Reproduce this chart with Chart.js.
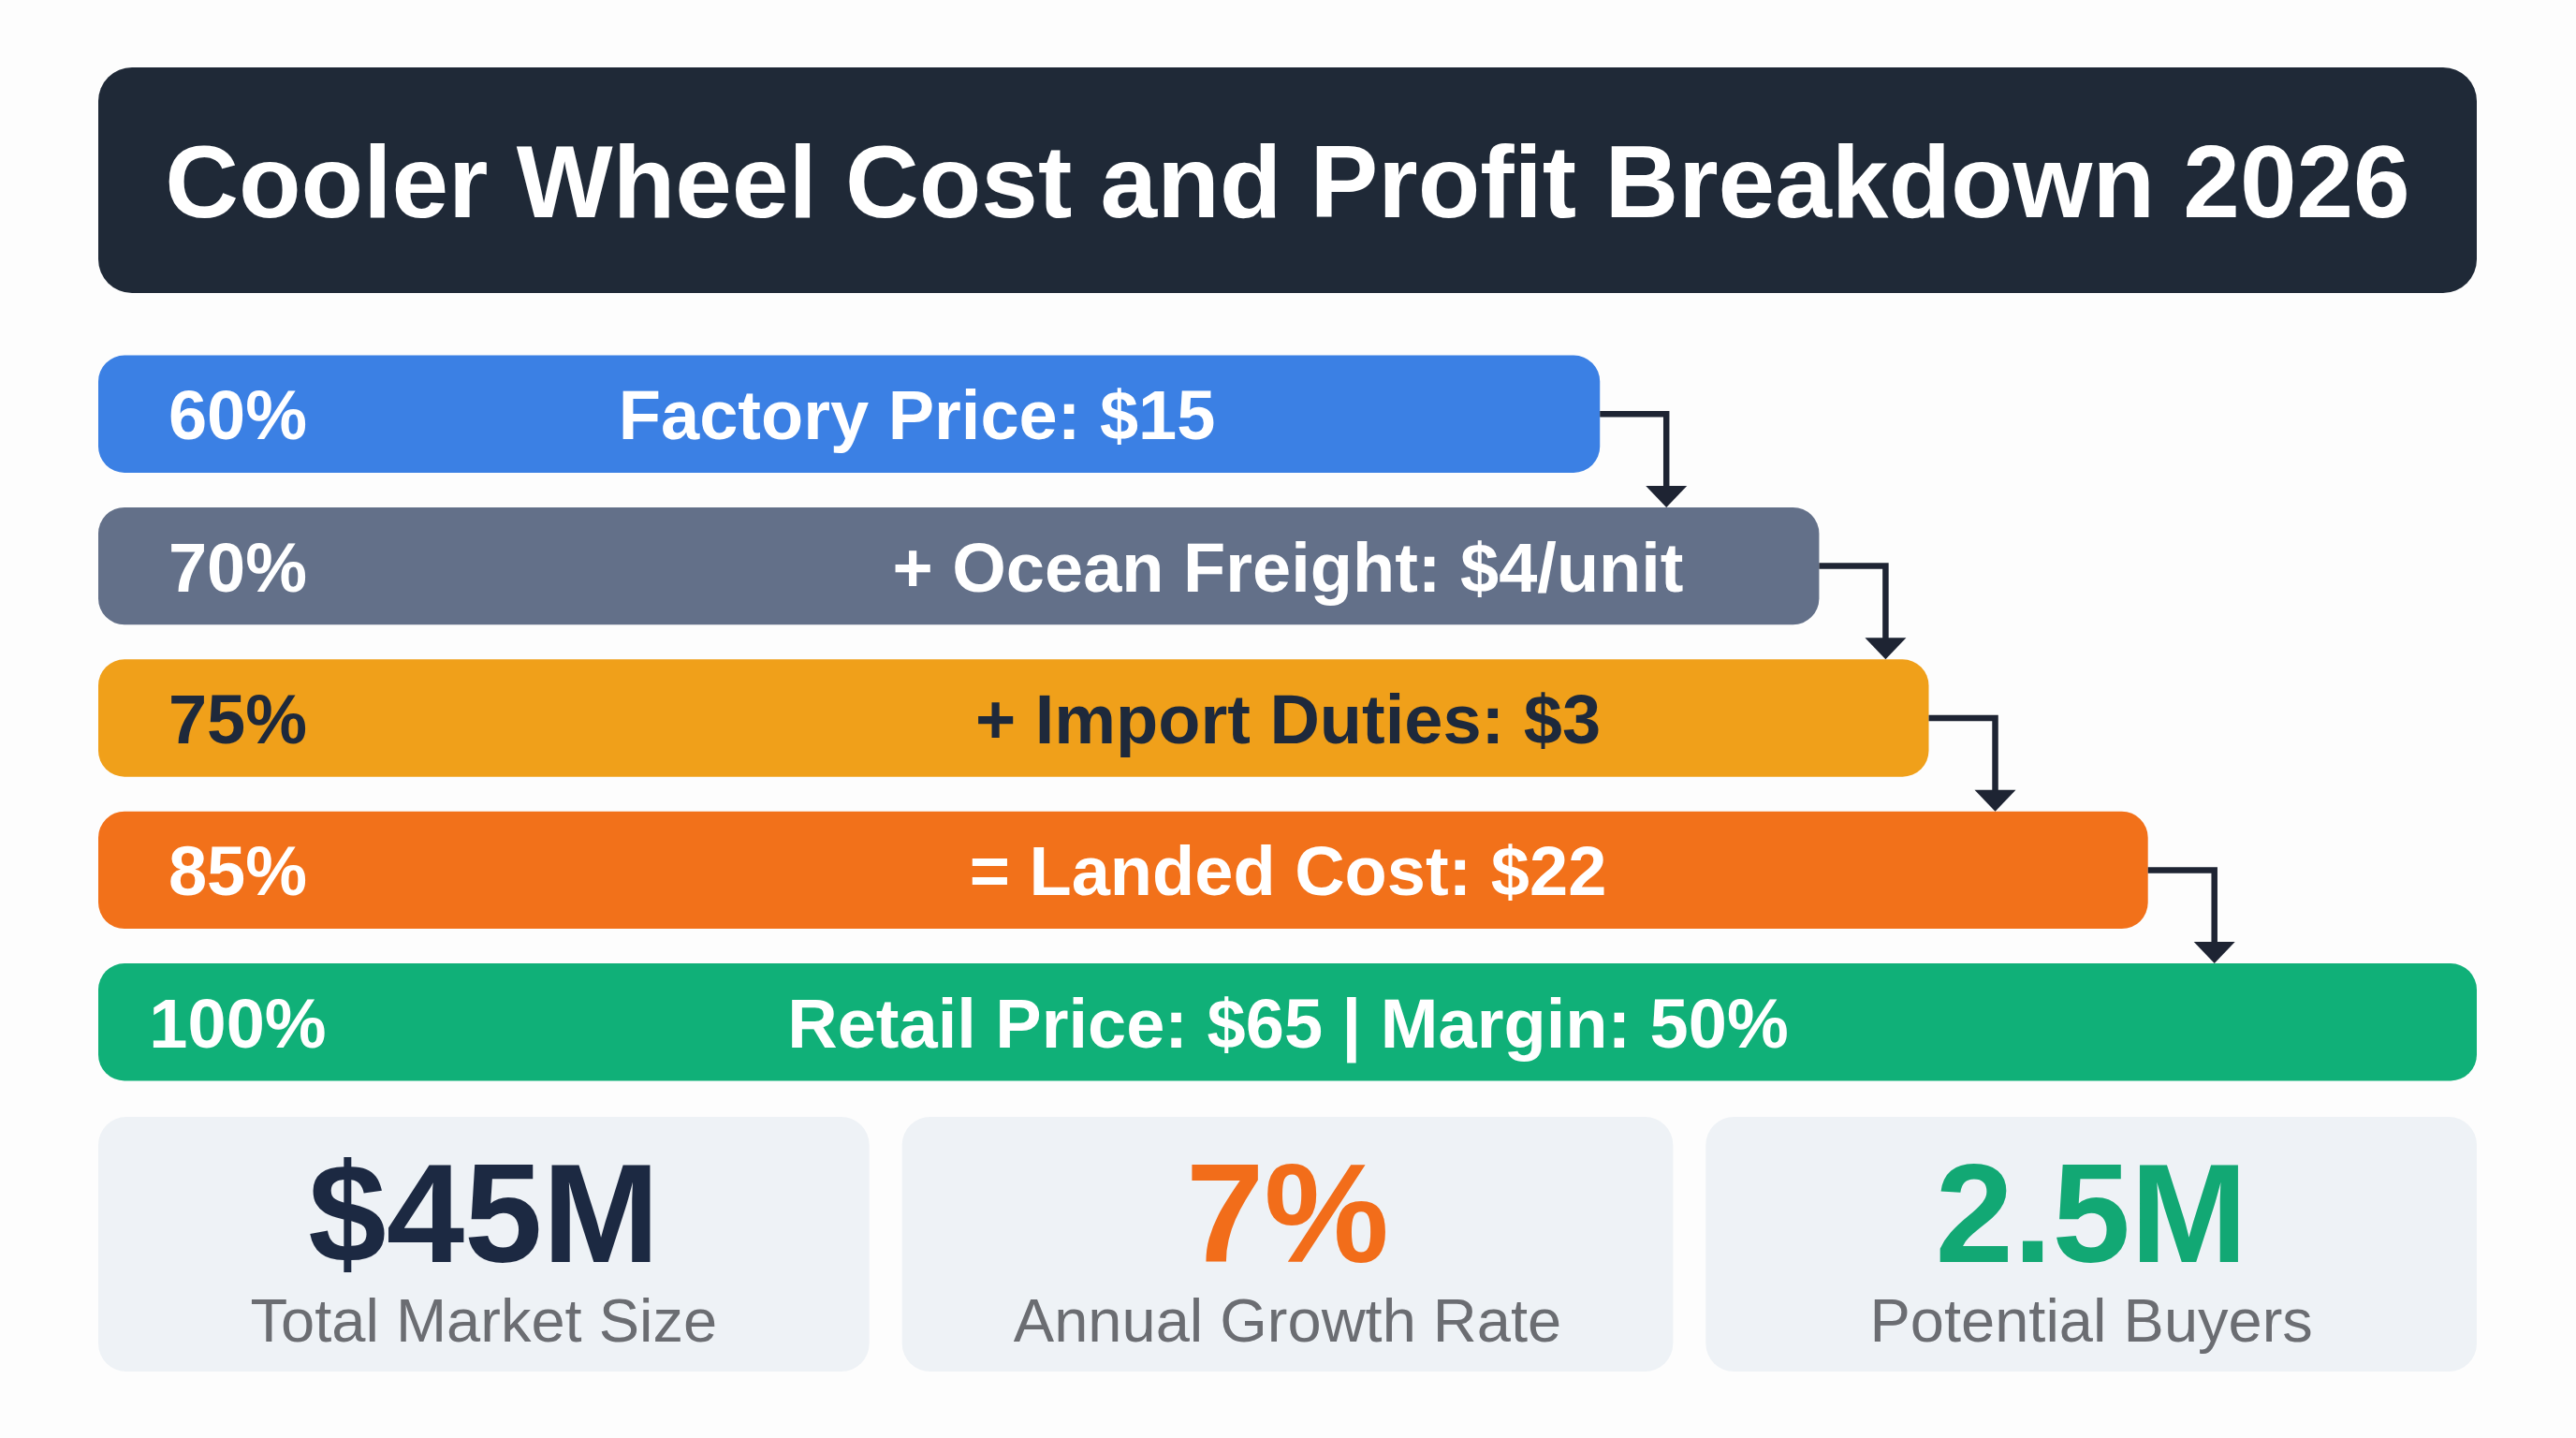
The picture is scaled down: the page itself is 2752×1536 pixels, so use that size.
<!DOCTYPE html>
<html>
<head>
<meta charset="utf-8">
<script src="https://cdn.jsdelivr.net/npm/chart.js@4.4.1/dist/chart.umd.min.js"></script>
<style>
    html, body { margin: 0; padding: 0; background: #fdfdfd; }
    #contenedor { width: 2752px; height: 1536px; }
</style>
</head>
<body>
<div id="contenedor"><canvas id="myChart" width="2752" height="1536"></canvas></div>
<script>
// Datos del grafico
const titulo = 'Cooler Wheel Cost and Profit Breakdown 2026';
const etapas = ['Factory Price: $15', '+ Ocean Freight: $4/unit', '+ Import Duties: $3', '= Landed Cost: $22', 'Retail Price: $65 | Margin: 50%'];
const porcentajes = [60, 70, 75, 85, 100];
const coloresBarra = ['#3b80e4', '#637089', '#f0a01a', '#f2711a', '#10b078'];
const coloresTexto = ['#ffffff', '#ffffff', '#1e293b', '#ffffff', '#ffffff'];

const kpiValores = ['$45M', '7%', '2.5M'];
const kpiEtiquetas = ['Total Market Size', 'Annual Growth Rate', 'Potential Buyers'];
const kpiColores = ['#1c2942', '#f26d1a', '#12a874'];

const FUENTE = '"Liberation Sans", Arial, sans-serif';

// Titulo, tarjetas, textos y flechas
const decoracion = {
    id: 'decoracion',
    beforeDraw(chart) {
        const ctx = chart.ctx;
        const area = chart.chartArea;
        ctx.save();

        // caja del titulo
        ctx.fillStyle = '#1f2937';
        ctx.beginPath();
        ctx.roundRect(area.left, 72, area.right - area.left, 241, 36);
        ctx.fill();
        ctx.fillStyle = '#ffffff';
        ctx.font = 'bold 109px ' + FUENTE;
        ctx.textAlign = 'center';
        ctx.textBaseline = 'alphabetic';
        ctx.fillText(titulo, (area.left + area.right) / 2, 232);

        // tarjetas de indicadores
        var gap = 35;
        var ancho = (area.right - area.left - gap * 2) / 3;
        for (var i = 0; i < kpiValores.length; i++) {
            var x = area.left + i * (ancho + gap);
            ctx.fillStyle = '#eef2f6';
            ctx.beginPath();
            ctx.roundRect(x, 1193, ancho, 272, 30);
            ctx.fill();

            ctx.fillStyle = kpiColores[i];
            ctx.font = 'bold 150px ' + FUENTE;
            ctx.fillText(kpiValores[i], x + ancho / 2, 1348);

            ctx.fillStyle = '#6b6d72';
            ctx.font = '65px ' + FUENTE;
            ctx.fillText(kpiEtiquetas[i], x + ancho / 2, 1433);
        }
        ctx.restore();
    },
    afterDatasetsDraw(chart) {
        const ctx = chart.ctx;
        const meta = chart.getDatasetMeta(0);
        ctx.save();
        ctx.font = 'bold 74px ' + FUENTE;
        ctx.textAlign = 'center';
        ctx.textBaseline = 'alphabetic';

        meta.data.forEach(function (bar, i) {
            var yTexto = bar.y + 27;
            ctx.fillStyle = coloresTexto[i];
            ctx.fillText(porcentajes[i] + '%', bar.base + 149, yTexto);

            var w = ctx.measureText(etapas[i]).width;
            var cx = chart.width / 2;
            if (cx + w / 2 + 40 > bar.x) {
                cx = (bar.base + 145 + bar.x) / 2;
            }
            ctx.fillText(etapas[i], cx, yTexto);
        });

        // flechas entre barras
        ctx.strokeStyle = '#1e2433';
        ctx.fillStyle = '#1e2433';
        ctx.lineWidth = 6.5;
        ctx.lineJoin = 'miter';
        for (var i = 0; i < meta.data.length - 1; i++) {
            var a = meta.data[i];
            var b = meta.data[i + 1];
            var xCodo = a.x + 71;
            var yTope = b.y - b.height / 2;
            ctx.beginPath();
            ctx.moveTo(a.x, a.y);
            ctx.lineTo(xCodo, a.y);
            ctx.lineTo(xCodo, yTope - 20);
            ctx.stroke();

            ctx.beginPath();
            ctx.moveTo(xCodo - 22, yTope - 23);
            ctx.lineTo(xCodo + 22, yTope - 23);
            ctx.lineTo(xCodo, yTope);
            ctx.closePath();
            ctx.fill();
        }
        ctx.restore();
    }
};

function crearGrafico() {
    const ctx = document.getElementById('myChart');
    new Chart(ctx, {
        type: 'bar',
        data: {
            labels: etapas,
            datasets: [{
                data: porcentajes,
                backgroundColor: coloresBarra,
                base: -8.5,
                borderRadius: 28,
                borderSkipped: false,
                barPercentage: 0.772,
                categoryPercentage: 1
            }]
        },
        options: {
            indexAxis: 'y',
            responsive: false,
            animation: false,
            devicePixelRatio: 1,
            layout: { padding: { left: 105, right: 106, top: 361, bottom: 363 } },
            scales: {
                x: { display: false, min: -8.5, max: 100 },
                y: { display: false }
            },
            plugins: {
                legend: { display: false },
                tooltip: { enabled: false }
            }
        },
        plugins: [decoracion]
    });
}

crearGrafico();
</script>
</body>
</html>
